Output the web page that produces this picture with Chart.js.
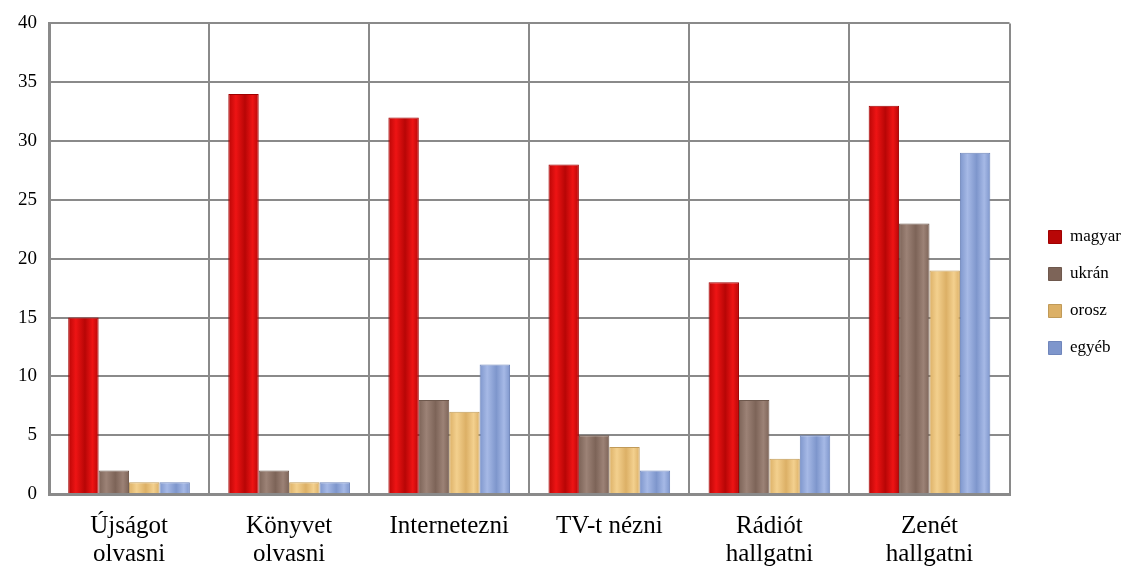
<!DOCTYPE html>
<html>
<head>
<meta charset="utf-8">
<script src="https://cdn.jsdelivr.net/npm/chart.js@4/dist/chart.umd.min.js"></script>
<style>
  html, body { margin: 0; padding: 0; background: #fff; }
  #wrap { width: 1131px; height: 568px; }
</style>
</head>
<body>
<div id="wrap"><canvas id="myChart"></canvas></div>
<script>
const categories = [['Újságot', 'olvasni'], ['Könyvet', 'olvasni'], 'Internetezni', 'TV-t nézni', ['Rádiót', 'hallgatni'], ['Zenét', 'hallgatni']];
const magyar = [15, 34, 32, 28, 18, 33];
const ukran = [2, 2, 8, 5, 8, 23];
const orosz = [1, 1, 7, 4, 3, 19];
const egyeb = [1, 1, 11, 2, 5, 29];
const yTicks = [0, 5, 10, 15, 20, 25, 30, 35, 40];

const chartCanvas = document.getElementById('myChart');

// cylinder-like shading across each bar
function shade(light, dark) {
  return function(ctx) {
    const el = ctx.element;
    if (!el || !el.width || isNaN(el.x)) return light;
    const c = ctx.chart.ctx;
    const x0 = el.x - el.width / 2;
    const g = c.createLinearGradient(x0, 0, x0 + el.width, 0);
    g.addColorStop(0, dark);
    g.addColorStop(0.25, light);
    g.addColorStop(0.55, dark);
    g.addColorStop(0.8, light);
    g.addColorStop(1, dark);
    return g;
  };
}

const data = {
  labels: categories,
  datasets: [
    { label: 'magyar', data: magyar, backgroundColor: shade('#ee1414', '#b80606'), borderColor: '#a00000', borderWidth: 1 },
    { label: 'ukrán', data: ukran, backgroundColor: shade('#9c8276', '#7d6458'), borderColor: '#6e584d', borderWidth: 1 },
    { label: 'orosz', data: orosz, backgroundColor: shade('#f3d08e', '#dcb066'), borderColor: '#c09a58', borderWidth: 1 },
    { label: 'egyéb', data: egyeb, backgroundColor: shade('#a6b9e6', '#7e96cc'), borderColor: '#6f86bb', borderWidth: 1 }
  ]
};

const myChart = new Chart(chartCanvas.getContext('2d'), {
  type: 'bar',
  data: data,
  options: {
    responsive: true,
    maintainAspectRatio: false,
    animation: false,
    layout: { padding: { top: -1, left: 6, right: 0, bottom: -18 } },
    datasets: { bar: { categoryPercentage: 0.76, barPercentage: 1.0 } },
    plugins: {
      legend: {
        position: 'right',
        align: 'center',
        labels: {
          font: { family: 'Liberation Serif', size: 17 },
          color: '#000',
          boxWidth: 13,
          boxHeight: 13,
          padding: 20
        }
      },
      tooltip: { enabled: false }
    },
    scales: {
      x: {
        offset: true,
        grid: { offset: true, color: '#8a8a8a', lineWidth: 2, drawTicks: false },
        border: { color: '#8a8a8a', width: 3 },
        ticks: { font: { family: 'Liberation Serif', size: 25, lineHeight: 1.12 }, color: '#000', padding: 18, maxRotation: 0, autoSkip: false }
      },
      y: {
        min: 0,
        max: 40,
        afterBuildTicks: function(axis) { axis.ticks = yTicks.map(v => ({ value: v })); },
        grid: { color: '#8a8a8a', lineWidth: 2, drawTicks: false },
        border: { color: '#8a8a8a', width: 3 },
        ticks: { font: { family: 'Liberation Serif', size: 19 }, color: '#000', padding: 12 }
      }
    }
  }
});

// widen the gap between the plot and the legend, keep legend items at the right
const legendFit = myChart.legend.fit;
myChart.legend.fit = function() {
  legendFit.call(this);
  this.width += 19;
};
const legendDraw = myChart.legend.draw;
myChart.legend.draw = function() {
  const c = this.ctx;
  c.save();
  c.translate(19, 0);
  legendDraw.call(this);
  c.restore();
};
myChart.update();
myChart.update();
</script>
</body>
</html>
